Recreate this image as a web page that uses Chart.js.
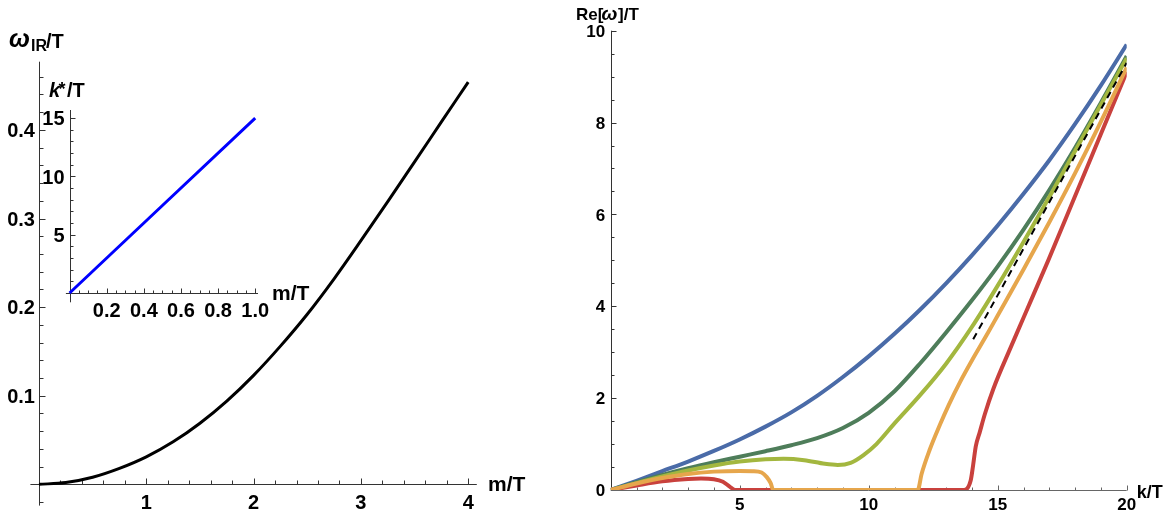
<!DOCTYPE html>
<html>
<head>
<meta charset="utf-8">
<script src="https://cdn.jsdelivr.net/npm/chart.js@4.4.0/dist/chart.umd.min.js"></script>
<style>
  html, body { margin: 0; padding: 0; background: #fff; }
  #wrap { position: relative; width: 1167px; height: 512px; overflow: hidden; }
  canvas { position: absolute; top: 0; }
</style>
</head>
<body>
<div id="wrap">
  <canvas id="left" width="560" height="512" style="left:0"></canvas>
  <canvas id="inset" width="560" height="512" style="left:0"></canvas>
  <canvas id="right" width="607" height="512" style="left:560px"></canvas>
</div>
<script>
// ---- left panel: omega_IR/T against m/T
const massT   = [0, 0.25, 0.5, 0.75, 1, 1.25, 1.5, 1.75, 2, 2.25, 2.5, 2.75, 3, 3.25, 3.5, 3.75, 4];
const omegaIR = [0, 0.002, 0.008, 0.018, 0.031, 0.048, 0.069, 0.094, 0.123, 0.156, 0.192, 0.232, 0.275, 0.319, 0.364, 0.409, 0.454];
const massTicks  = [1, 2, 3, 4];
const omegaTicks = [0.1, 0.2, 0.3, 0.4];

// ---- inset: k*/T against m/T
const insetMass  = [0, 1];
const insetKStar = [0, 15];
const insetMassTicks = [0.2, 0.4, 0.6, 0.8, 1.0];
const insetKTicks    = [5, 10, 15];

// ---- right panel: Re[omega]/T against k/T
const kGrid   = [0, 1, 2, 3, 4, 5, 6, 7, 8, 9, 10, 11, 12, 13, 14, 15, 16, 17, 18, 19, 20];
const reBlue  = [0, 0.2, 0.41, 0.62, 0.85, 1.1, 1.38, 1.69, 2.05, 2.46, 2.91, 3.4, 3.93, 4.5, 5.11, 5.76, 6.45, 7.18, 7.97, 8.81, 9.7];
const reGreen = [0, 0.17, 0.33, 0.475, 0.605, 0.725, 0.845, 0.975, 1.13, 1.35, 1.68, 2.15, 2.76, 3.43, 4.13, 4.87, 5.67, 6.53, 7.45, 8.43, 9.45];
const kOlive  = [0, 1, 2, 3, 4, 5, 6, 6.7, 7.5, 8.3, 8.8, 9.3, 9.8, 10.3, 11, 12, 13, 14, 15, 16, 17, 18, 19, 20];
const reOlive = [0, 0.15, 0.295, 0.425, 0.535, 0.62, 0.67, 0.68, 0.65, 0.57, 0.545, 0.59, 0.76, 1.0, 1.45, 2.07, 2.75, 3.55, 4.45, 5.4, 6.38, 7.38, 8.39, 9.4];
const kOrange  = [0, 1, 2, 3, 4, 5, 5.5, 5.85, 6.05, 6.2, 6.3, 11.9, 12.05, 12.36, 12.76, 13.1, 13.54, 14, 14.6, 15, 16, 17, 18, 19, 20];
const reOrange = [0, 0.14, 0.26, 0.35, 0.4, 0.415, 0.41, 0.38, 0.28, 0.15, 0, 0, 0.35, 0.87, 1.42, 1.85, 2.35, 2.82, 3.4, 3.8, 4.8, 5.83, 6.9, 8.02, 9.2];
const kRed  = [0, 1, 2, 3, 3.5, 4, 4.35, 4.6, 4.82, 13.7, 13.95, 14.05, 14.15, 14.3, 14.5, 14.83, 15.5, 16, 16.96, 18, 19, 20];
const reRed = [0, 0.1, 0.19, 0.24, 0.25, 0.235, 0.18, 0.08, 0, 0, 0.2, 0.55, 0.95, 1.25, 1.65, 2.2, 3.1, 3.75, 5.0, 6.4, 7.75, 9.1];
const kDashed  = [14.05, 20];
const reDashed = [3.28, 9.3];
const kTicks  = [5, 10, 15, 20];
const reTicks = [0, 2, 4, 6, 8, 10];

const FAMILY = '"Liberation Sans", Arial, Helvetica, sans-serif';
const pts = (xs, ys) => xs.map((x, i) => ({ x, y: ys[i] }));

function steps(min, max, step) {
    const out = [];
    for (let i = Math.ceil(min / step - 1e-9); i * step <= max + 1e-9; i++) out.push(+(i * step).toFixed(6));
    return out;
}

// Mathematica style axes crossing at the origin, ticks pointing inwards
function axesPlugin(cfg) {
    return {
        id: 'axes',
        beforeDatasetsDraw(chart) {
            const { ctx, chartArea: a } = chart;
            const xs = chart.scales.x, ys = chart.scales.y;
            const x0 = Math.round(xs.getPixelForValue(0)) + 0.5;
            const y0 = Math.round(ys.getPixelForValue(0)) + 0.5;
            ctx.save();
            ctx.lineWidth = 1;
            ctx.strokeStyle = cfg.xColor;
            ctx.beginPath();
            ctx.moveTo(a.left, y0); ctx.lineTo(a.right, y0);
            steps(xs.min, xs.max, cfg.xMinor).forEach(v => {
                if (v === 0) return;
                const len = cfg.xTicks.some(t => Math.abs(t - v) < 1e-6) ? cfg.major : cfg.minor;
                const px = Math.round(xs.getPixelForValue(v)) + 0.5;
                ctx.moveTo(px, y0); ctx.lineTo(px, y0 - len);
            });
            ctx.stroke();
            ctx.strokeStyle = cfg.yColor;
            ctx.beginPath();
            ctx.moveTo(x0, a.top); ctx.lineTo(x0, a.bottom);
            steps(ys.min, ys.max, cfg.yMinor).forEach(v => {
                if (v === 0) return;
                const len = cfg.yTicks.some(t => Math.abs(t - v) < 1e-6) ? cfg.major : cfg.minor;
                const py = Math.round(ys.getPixelForValue(v)) + 0.5;
                ctx.moveTo(x0, py); ctx.lineTo(x0 + len, py);
            });
            ctx.stroke();
            ctx.restore();
        },
        afterDraw(chart) {
            const { ctx } = chart;
            const xs = chart.scales.x, ys = chart.scales.y;
            const x0 = xs.getPixelForValue(0);
            ctx.save();
            ctx.fillStyle = '#000';
            ctx.font = 'bold ' + cfg.size + 'px ' + FAMILY;
            ctx.textAlign = 'center';
            ctx.textBaseline = 'alphabetic';
            cfg.xTicks.forEach(v => ctx.fillText(v.toFixed(cfg.xDec), xs.getPixelForValue(v), cfg.xBase));
            ctx.textAlign = 'right';
            cfg.yTicks.forEach(v => ctx.fillText(v.toFixed(cfg.yDec), x0 - cfg.yGap, ys.getPixelForValue(v) + cfg.size * 0.36));
            ctx.textAlign = 'left';
            cfg.titles.forEach(s => {
                ctx.font = s.f + ' ' + FAMILY;
                ctx.fillText(s.t, s.x, s.y);
            });
            ctx.restore();
        }
    };
}

function makeChart(id, datasets, range, padding, axes) {
    return new Chart(document.getElementById(id), {
        type: 'scatter',
        data: { datasets },
        options: {
            responsive: false,
            animation: false,
            devicePixelRatio: 1,
            layout: { padding },
            plugins: { legend: { display: false }, tooltip: { enabled: false } },
            scales: {
                x: { type: 'linear', display: false, min: range[0], max: range[1] },
                y: { type: 'linear', display: false, min: range[2], max: range[3] }
            }
        },
        plugins: [axesPlugin(axes)]
    });
}

function curve(data, color, width, order, extra) {
    return Object.assign({
        data, showLine: true, borderColor: color, borderWidth: width,
        pointRadius: 0, fill: false, cubicInterpolationMode: 'monotone', order
    }, extra || {});
}

makeChart('left',
    [curve(pts(massT, omegaIR), '#000', 3, 0)],
    [-0.08, 4.08, -0.024, 0.477],
    { left: 30.4, right: 83.2, top: 61.7, bottom: 6.4 },
    {
        xColor: '#333', yColor: '#333', major: 6, minor: 4,
        xTicks: massTicks, xMinor: 0.2, xDec: 0, xBase: 508.5,
        yTicks: omegaTicks, yMinor: 0.02, yDec: 1, yGap: 4,
        size: 20,
        titles: [
            { t: 'ω', x: 9, y: 47, f: 'italic bold 25px' },
            { t: 'IR', x: 31, y: 50.5, f: 'bold 16px' },
            { t: '/T', x: 46, y: 47.5, f: 'bold 20px' },
            { t: 'm/T', x: 488, y: 491, f: 'bold 21px' }
        ]
    });

makeChart('inset',
    [curve(pts(insetMass, insetKStar), '#0000ff', 3, 0)],
    [-0.02, 1.015, -0.8, 15.69],
    { left: 65.9, right: 302, top: 110, bottom: 209.7 },
    {
        xColor: '#333', yColor: '#333', major: 5, minor: 3,
        xTicks: insetMassTicks, xMinor: 0.05, xDec: 1, xBase: 317,
        yTicks: insetKTicks, yMinor: 1, yDec: 0, yGap: 5,
        size: 20,
        titles: [
            { t: 'k', x: 49, y: 97, f: 'italic bold 20px' },
            { t: '*', x: 58.5, y: 95, f: 'bold 18px' },
            { t: '/T', x: 67, y: 97, f: 'bold 20px' },
            { t: 'm/T', x: 272, y: 300, f: 'bold 21px' }
        ]
    });

makeChart('right',
    [
        curve(pts(kGrid, reBlue), '#4a6ba8', 4, 5),
        curve(pts(kGrid, reGreen), '#4e7d5a', 4, 4),
        curve(pts(kOlive, reOlive), '#a3b73f', 4, 3),
        curve(pts(kRed, reRed), '#c9413d', 4, 2),
        curve(pts(kOrange, reOrange), '#e6a64c', 4, 1),
        curve(pts(kDashed, reDashed), '#000', 2, 0, { borderDash: [7, 5], cubicInterpolationMode: 'default' })
    ],
    [0, 20, 0, 10],
    { left: 50.7, right: 40.3, top: 30.7, bottom: 22 },
    {
        xColor: '#666', yColor: '#333', major: 5, minor: 3,
        xTicks: kTicks, xMinor: 1, xDec: 0, xBase: 510,
        yTicks: reTicks, yMinor: 0.5, yDec: 0, yGap: 5.5,
        size: 17,
        titles: [
            { t: 'Re[', x: 16, y: 19.5, f: 'bold 17px' },
            { t: 'ω', x: 41.5, y: 19.5, f: 'italic bold 19px' },
            { t: ']/T', x: 58, y: 19.5, f: 'bold 17px' },
            { t: 'k/T', x: 576.7, y: 497.5, f: 'bold 18px' }
        ]
    });
</script>
</body>
</html>
